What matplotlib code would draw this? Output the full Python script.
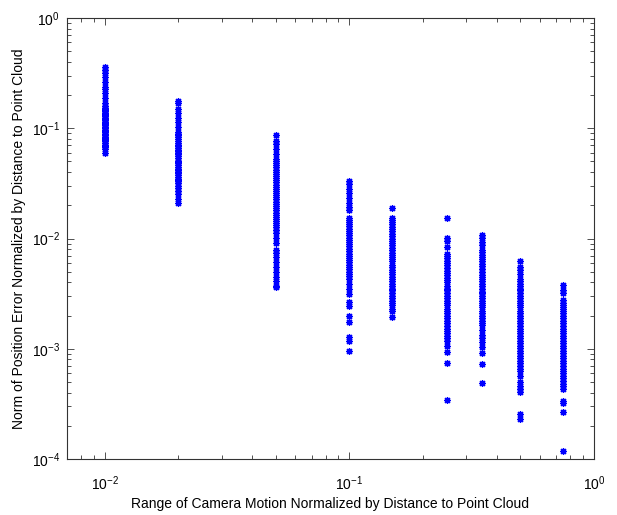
import matplotlib
matplotlib.use('Agg')
import matplotlib.pyplot as plt
from matplotlib.ticker import FuncFormatter

plt.rcParams['font.family'] = ['Liberation Sans', 'DejaVu Sans']
plt.rcParams['axes.unicode_minus'] = False

# camera motion range (x) for each column of points
motion_range = [0.01, 0.02, 0.05, 0.1, 0.15, 0.25, 0.35, 0.5, 0.75]

# normalized position error
err_001 = [0.363, 0.340, 0.319, 0.289, 0.265, 0.239, 0.225, 0.210, 0.190, 0.171, 0.160,
           0.154, 0.150, 0.146, 0.142, 0.138, 0.135, 0.131, 0.128, 0.125, 0.121, 0.118,
           0.115, 0.112, 0.109, 0.106, 0.103, 0.100, 0.097, 0.095, 0.092, 0.089, 0.087,
           0.084, 0.082, 0.080, 0.078, 0.076, 0.073, 0.071, 0.069, 0.067, 0.065, 0.060]
err_002 = [0.178, 0.168, 0.151, 0.137, 0.123, 0.113, 0.102,
           0.092, 0.089, 0.086, 0.083, 0.080, 0.077, 0.074, 0.071, 0.069, 0.066, 0.064,
           0.062, 0.060, 0.058, 0.056, 0.054, 0.051, 0.049, 0.048, 0.046, 0.045, 0.043,
           0.042, 0.040, 0.039, 0.038, 0.036, 0.035, 0.034, 0.033, 0.032, 0.030, 0.029,
           0.0268, 0.0252, 0.0228, 0.0209]
err_005 = [0.087, 0.077, 0.072, 0.065, 0.059,
           0.053, 0.0505, 0.0484, 0.0464, 0.0443, 0.0422, 0.0402, 0.0386, 0.0371, 0.0355,
           0.034, 0.0324, 0.0309, 0.0296, 0.0283, 0.0271, 0.0259, 0.0247, 0.0237, 0.0227,
           0.0216, 0.0206, 0.0197, 0.0188, 0.018, 0.0172, 0.0165, 0.0158, 0.015, 0.0144,
           0.0138, 0.0132, 0.0126, 0.012, 0.0113,
           0.0101, 0.0091, 0.0079, 0.0074, 0.0068, 0.0061, 0.0055, 0.0050, 0.0045, 0.0041,
           0.0037, 0.0036]
err_010 = [0.0334, 0.0313, 0.0283, 0.0260, 0.0235, 0.0212, 0.0192, 0.0180,
           0.0155, 0.0148, 0.0141, 0.0135, 0.0129, 0.0122, 0.0117, 0.0112, 0.0107, 0.0102,
           0.0097, 0.0093, 0.0089, 0.0085, 0.0081, 0.0077, 0.0073, 0.0070, 0.0067, 0.0064,
           0.0061, 0.0058, 0.0055, 0.0053, 0.0050, 0.0048, 0.0046,
           0.00425, 0.00384, 0.00346, 0.00312, 0.00264, 0.00244, 0.00198, 0.00175,
           0.00128, 0.00118, 0.00096]
err_015 = [0.0190,
           0.0155, 0.0148, 0.0141, 0.0135, 0.0128, 0.0122, 0.0116, 0.0110, 0.0105, 0.0100,
           0.0095, 0.0091, 0.0087, 0.0082, 0.0078, 0.0074, 0.0071, 0.0068, 0.0065, 0.0062,
           0.0058, 0.0055, 0.0052, 0.0050, 0.0048, 0.0045, 0.0043, 0.0041, 0.0039, 0.0037,
           0.0035, 0.0034, 0.0032, 0.0030, 0.0029, 0.0027, 0.0026, 0.0025, 0.0023, 0.0022,
           0.00196]
err_025 = [0.0155, 0.0102, 0.0094, 0.0084,
           0.0073, 0.0070, 0.0067, 0.0063, 0.0060, 0.0057, 0.0054, 0.0051, 0.0049, 0.0047,
           0.0044, 0.0042, 0.0040, 0.0037, 0.0035, 0.0034, 0.0032, 0.0030, 0.0029, 0.0027,
           0.0026, 0.0025, 0.0023, 0.0022, 0.0021, 0.0020, 0.0019, 0.0018, 0.0017, 0.0016,
           0.00152, 0.00145, 0.00138, 0.00131, 0.00124, 0.00118,
           0.00105, 0.00094, 0.00074, 0.00034]
err_035 = [0.0107, 0.0101, 0.0093, 0.0087,
           0.0078, 0.0075, 0.0071, 0.0068, 0.0065, 0.0062, 0.0059, 0.0056, 0.0053, 0.0050,
           0.0047, 0.0045, 0.0043, 0.0041, 0.0039, 0.0037, 0.0035, 0.0033, 0.0032, 0.0030,
           0.0029, 0.0027, 0.0026, 0.0025, 0.0024, 0.0022, 0.0021, 0.0020, 0.0019, 0.0018,
           0.0017, 0.00165,
           0.00149, 0.00134, 0.00126, 0.00114, 0.00103, 0.00091, 0.00072, 0.00049]
err_050 = [0.0062, 0.0055, 0.0052, 0.0048,
           0.0043, 0.0041, 0.0039, 0.0037, 0.0035, 0.0034, 0.0032, 0.0030, 0.0029, 0.0027,
           0.0026, 0.0025, 0.0024, 0.0022, 0.0021, 0.0020, 0.0019, 0.0018, 0.0017, 0.0016,
           0.00152, 0.00145, 0.00138, 0.00131, 0.00124, 0.00118, 0.00112, 0.00106, 0.00101,
           0.00096, 0.00091, 0.00086, 0.00082, 0.00078, 0.00074, 0.00070, 0.00066, 0.00063,
           0.000565, 0.000499, 0.000459, 0.000432, 0.000406, 0.000258, 0.000233]
err_075 = [0.00376, 0.00339, 0.00319,
           0.00276, 0.0026, 0.0025, 0.0024, 0.0023, 0.0022, 0.0021, 0.0020, 0.0019, 0.0018,
           0.0017, 0.0016, 0.00152, 0.00145, 0.00138, 0.00131, 0.00124, 0.00118, 0.00112,
           0.00106, 0.00101, 0.00096, 0.00091, 0.00086, 0.00082, 0.00078, 0.00074, 0.00070,
           0.00066, 0.00063, 0.00060, 0.00057, 0.00054, 0.00051, 0.00048, 0.00046, 0.00043,
           0.000337, 0.000324, 0.000269, 0.000118]

errors = [err_001, err_002, err_005, err_010, err_015, err_025, err_035, err_050, err_075]


def pow10_label(v, pos):
    # matlab style: plain 10 with a small raised exponent
    exp = int(round(__import__('math').log10(v)))
    return r'$\mathregular{10^{%d}}$' % exp


fig = plt.figure(figsize=(6.17, 5.15), dpi=100)
ax = fig.add_axes([0.1086, 0.1087, 0.854, 0.8563])

for xv, ys in zip(motion_range, errors):
    ax.plot([xv] * len(ys), ys, linestyle='none', marker=(8, 2, 0),
            markersize=5, markeredgewidth=0.9, color='blue', markeredgecolor='blue')

ax.set_xscale('log')
ax.set_yscale('log')
ax.set_xlim(0.007, 1)
ax.set_ylim(1e-4, 1)
ax.xaxis.set_major_formatter(FuncFormatter(pow10_label))
ax.yaxis.set_major_formatter(FuncFormatter(pow10_label))

ax.tick_params(which='both', direction='in', top=True, right=True, width=0.6,
               labelsize=10, color='#333333')
ax.tick_params(which='major', length=5)
ax.tick_params(which='minor', length=3)
ax.tick_params(axis='x', which='major', pad=11)
ax.tick_params(axis='y', which='major', pad=5)
for s in ax.spines.values():
    s.set_linewidth(0.8)
    s.set_color('#333333')

ax.set_xlabel('Range of Camera Motion Normalized by Distance to Point Cloud',
              fontsize=10, labelpad=3)
ax.set_ylabel('Norm of Position Error Normalized by Distance to Point Cloud',
              fontsize=10, labelpad=4)

fig.savefig('out.png', dpi=100)
